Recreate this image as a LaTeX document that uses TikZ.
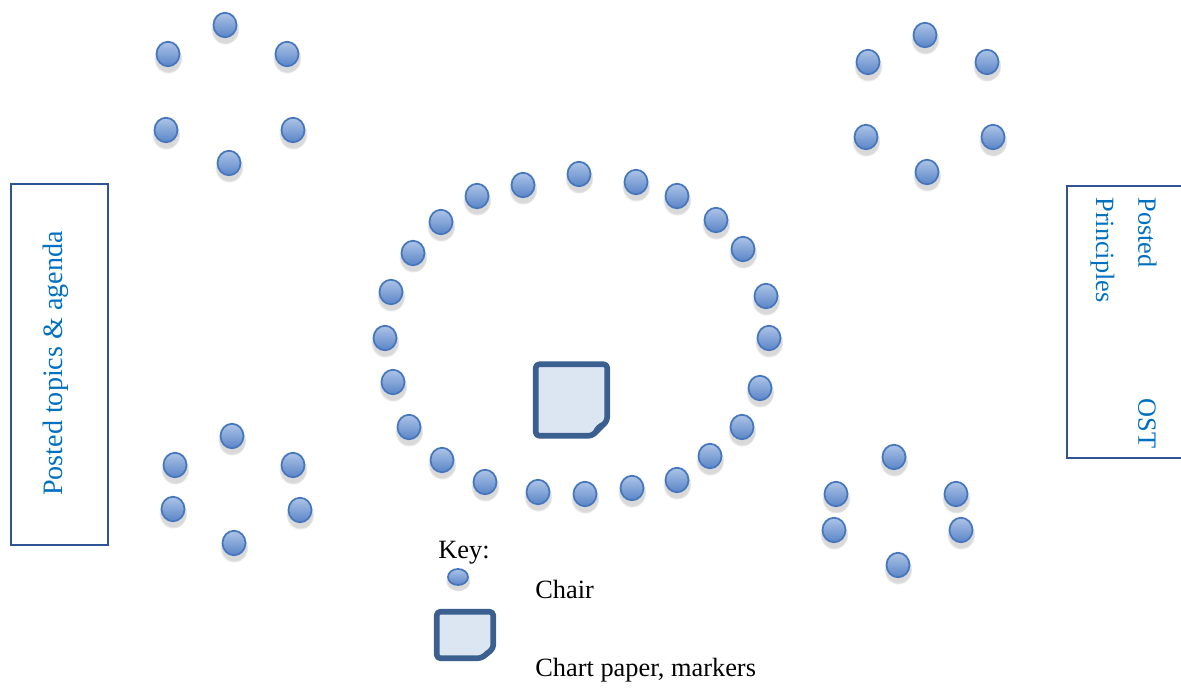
\documentclass[tikz,border=0pt]{standalone}
\usepackage{fontspec}
\setmainfont{Liberation Serif}
\usetikzlibrary{shapes.geometric,shadows}
\definecolor{chairtop}{HTML}{ADC4E6}
\definecolor{chairbot}{HTML}{5A85C8}
\definecolor{chairline}{HTML}{4677BD}
\definecolor{paperfill}{HTML}{DCE6F2}
\definecolor{paperline}{HTML}{3B5F8E}
\definecolor{boardline}{HTML}{2F5496}
\definecolor{posttext}{HTML}{0070C0}

\begin{document}
\begin{tikzpicture}[x=0.02cm,y=-0.02cm,
    chair/.style={ellipse,draw=chairline,line width=1pt,top color=chairtop,bottom color=chairbot,
      minimum width=0.46cm,minimum height=0.49cm,inner sep=0pt,
      circular drop shadow={shadow xshift=0pt,shadow yshift=-2pt,shadow scale=1.25,opacity=0.3}},
    keychair/.style={chair,minimum width=0.4cm,minimum height=0.32cm},
    board/.style={rectangle,draw=boardline,line width=0.9pt,inner sep=0pt},
    posted/.style={text=posttext,font=\fontsize{15}{24}\selectfont,inner sep=0pt},
    keytext/.style={font=\fontsize{15}{18}\selectfont,inner sep=0pt,anchor=base west},
    paper/.style={draw=paperline,fill=paperfill,line width=3.2pt,rounded corners=2pt,line join=round},
    chartpaper/.pic={
      \draw[paper] (-0.5cm,0.5cm) -- (0.5cm,0.5cm) -- (0.5cm,-0.29cm) -- (0.29cm,-0.5cm) -- (-0.5cm,-0.5cm) -- cycle;
      \fill[paperline] (0.29cm,-0.5cm) .. controls (0.29cm,-0.4cm) and (0.38cm,-0.3cm) .. (0.5cm,-0.29cm) -- cycle;
    }]
  \useasboundingbox (0,0) rectangle (1181,687);

  % posted boards
  \node[board,minimum width=1.94cm,minimum height=7.22cm] (topicsboard) at (59.5,364.5) {};
  \node[posted,font=\fontsize{16}{20}\selectfont,rotate=90,anchor=base] (topicstext) at (62,363.5) {Posted topics \& agenda};
  \node[board,minimum width=2.7cm,minimum height=5.44cm] (ostboard) at (1134.5,322) {};
  \node[posted,rotate=-90,anchor=north west,text width=5.02cm,align=left] (osttext) at (1157,197) {Posted\hfill OST\\Principles};

  % small groups
  \foreach \x/\y [count=\i] in {225/25,168/54,287/54,166/130,293/130,229/163}
    \node[chair] (tl\i) at (\x,\y) {};
  \foreach \x/\y [count=\i] in {925/35,868/62,987/62,866/137,993/137,927/172}
    \node[chair] (tr\i) at (\x,\y) {};
  \foreach \x/\y [count=\i] in {232/436,175/465,293/465,173/509,300/510,234/543}
    \node[chair] (bl\i) at (\x,\y) {};
  \foreach \x/\y [count=\i] in {894/457,836/494,956/494,834/530,961/530,898/565}
    \node[chair] (br\i) at (\x,\y) {};

  % big circle
  \foreach \x/\y [count=\i] in {579/174,636/182,677/196,716/220,743/249,766/296,769/338,760/388,
      742/427,710/456,677/480,632/488,585/494,538/492,485/482,442/460,409/427,393/382,385/338,
      391/292,413/253,441/222,477/196,523/185}
    \node[chair] (c\i) at (\x,\y) {};

  \pic[scale=1.43] (paper) at (571.5,400) {chartpaper};

  % key
  \node[keytext] (keylabel) at (438,558) {Key:};
  \node[keychair] (keychair) at (458,577) {};
  \node[keytext] (chairlabel) at (535,598) {Chair};
  \pic[xscale=1.13,yscale=0.93] (keypaper) at (465,635) {chartpaper};
  \node[keytext] (paperlabel) at (535,676) {Chart paper, markers};
\end{tikzpicture}
\end{document}
